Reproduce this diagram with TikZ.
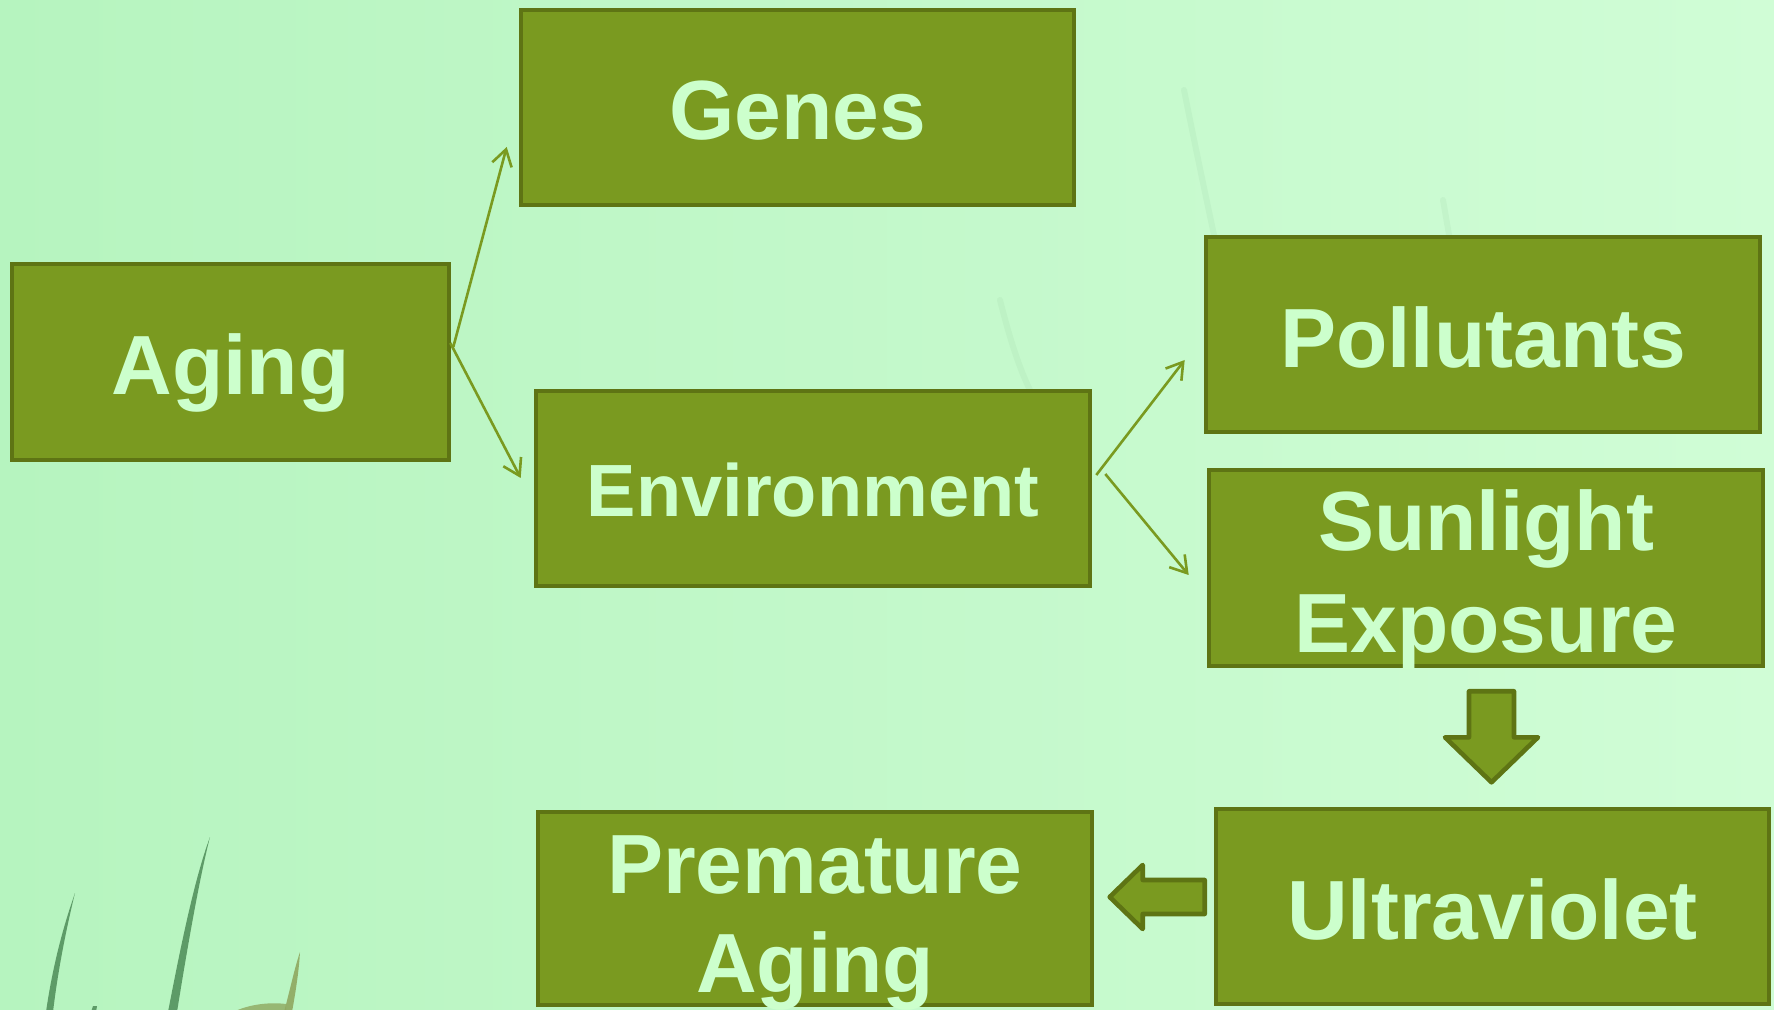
\documentclass[tikz,border=0pt]{standalone}
\usepackage{fontspec}
\setmainfont{Liberation Sans}
\usetikzlibrary{arrows.meta,calc}
\definecolor{boxfill}{HTML}{7A9A20}
\definecolor{boxline}{HTML}{5E7414}
\definecolor{txt}{HTML}{CCFFCC}
\definecolor{bgL}{HTML}{B6F4BF}
\definecolor{bgR}{HTML}{D0FDD6}
\definecolor{grassc}{HTML}{4E8C58}
\definecolor{grassy}{HTML}{8FA860}
\begin{document}
\begin{tikzpicture}[x=0.5pt,y=-0.5pt,
  box/.style={draw=boxline, fill=boxfill, line width=2.3pt, rectangle, inner sep=0pt},
  lbl/.style={text=txt, font=\fontsize{42}{50}\selectfont\bfseries, inner sep=0pt, anchor=base},
  conn/.style={draw=boxfill, line width=1.3pt, -{Straight Barb[length=8pt,width=10pt]}},
  blockarrow/.style={draw=boxline, fill=boxfill, line width=2.3pt, line join=round},
  grass/.style={fill=grassc, opacity=0.85},
  faint/.style={draw=grassc, opacity=0.06, line width=3pt, line cap=round}]
\useasboundingbox (0,0) rectangle (1774,1010);
% background
\shade[left color=bgL, right color=bgR] (0,0) rectangle (1774,1010);
% faint background grass
\draw[faint] (1184,90) .. controls (1200,170) and (1215,240) .. (1228,300);
\draw[faint] (1443,200) .. controls (1450,240) and (1455,270) .. (1458,300);
\draw[faint] (1000,300) .. controls (1010,340) and (1020,370) .. (1030,390);
% grass blades, bottom left
\fill[grass] (75,893) .. controls (62,930) and (52,970) .. (46,1012) -- (53,1012)
  .. controls (58,970) and (66,930) .. (75,893) -- cycle;
\fill[grass] (210,837) .. controls (194,880) and (180,950) .. (168,1012) -- (177,1012)
  .. controls (187,950) and (199,880) .. (210,837) -- cycle;
\fill[grassy, opacity=0.9] (300,952) .. controls (294,970) and (290,990) .. (284,1012) -- (292,1012)
  .. controls (296,990) and (299,970) .. (300,952) -- cycle;
\fill[grassy, opacity=0.8] (233,1012) .. controls (250,1004) and (270,1002) .. (286,1004) -- (286,1012) -- cycle;
\fill[grass] (93,1006) -- (97,1006) -- (96,1012) -- (91,1012) -- cycle;

% boxes
\node[box, minimum width=276.5pt, minimum height=97.5pt] (genes) at (797.5,107.5) {};
\node[box, minimum width=218.5pt, minimum height=98pt] (aging) at (230.5,362) {};
\node[box, minimum width=277pt, minimum height=97.5pt] (env) at (813,488.5) {};
\node[box, minimum width=277pt, minimum height=97.5pt] (pol) at (1483,334.5) {};
\node[box, minimum width=277pt, minimum height=98pt] (sun) at (1486,568) {};
\node[box, minimum width=276.5pt, minimum height=97.5pt] (uv) at (1492.5,906.5) {};
\node[box, minimum width=277pt, minimum height=96.5pt] (pre) at (815,908.5) {};

% labels
\node[lbl] (genesT) at (797.5,140) {Genes};
\node[lbl] (agingT) at (230.5,395) {Aging};
\node[lbl, font=\fontsize{37}{44}\selectfont\bfseries] (envT) at (813,517) {Environment};
\node[lbl] (polT) at (1483,368) {Pollutants};
\node[lbl] (sunT1) at (1486,551) {Sunlight};
\node[lbl] (sunT2) at (1486,653) {Exposure};
\node[lbl] (uvT) at (1492.5,939) {Ultraviolet};
\node[lbl] (preT1) at (815,893) {Premature};
\node[lbl] (preT2) at (815,992) {Aging};

% thin connectors
\draw[conn] ($(aging.east)+(2,-15)$) -- ($(genes.west)+(-12,39.5)$);
\draw[conn] ($(aging.east)+(-1,-19)$) -- ($(env.west)+(-13,-10.5)$);
\draw[conn] ($(env.east)+(4,-13.5)$) -- ($(pol.west)+(-19,25.5)$);
\draw[conn] ($(env.east)+(13,-14.5)$) -- ($(sun.west)+(-18,7)$);

% block arrows
\draw[blockarrow] ($(sun.south)+(-17,23)$) -- ++(45,0) -- ++(0,46) -- ++(24,0)
  -- ++(-46.5,45) -- ++(-46.5,-45) -- ++(24,0) -- cycle;
\draw[blockarrow] ($(uv.west)+(-9,-26.5)$) -- ++(0,34) -- ++(-62,0) -- ++(0,15)
  -- ++(-33,-32) -- ++(33,-32) -- ++(0,15) -- cycle;
\end{tikzpicture}
\end{document}
